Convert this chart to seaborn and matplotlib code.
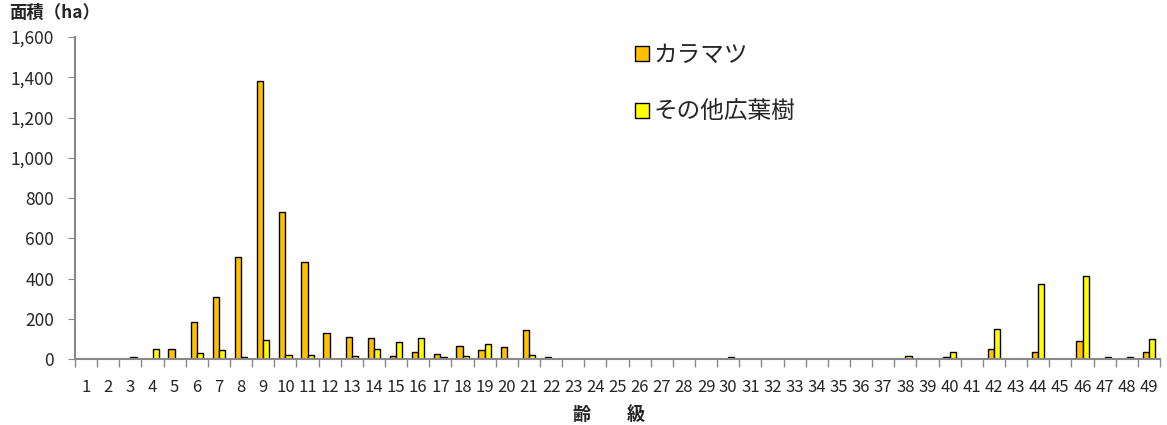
import numpy as np
import pandas as pd
import seaborn as sns
import matplotlib.pyplot as plt
from matplotlib.patches import Patch
from matplotlib.ticker import FuncFormatter, MultipleLocator

# Data (area in ha per age class)
age_classes = [str(i) for i in range(1, 50)]
karamatsu = [3, 1, 0, 0, 48, 184, 311, 505, 1380, 730,
             484, 132, 108, 104, 15, 35, 27, 65, 45, 58,
             144, 13, 2, 3, 0, 0, 0, 0, 0, 0,
             0, 0, 1, 1, 0, 1, 0, 0, 0, 12,
             3, 50, 3, 33, 3, 88, 0, 2, 35]
broadleaf = [3, 1, 10, 48, 3, 30, 46, 10, 94, 20,
             20, 3, 17, 50, 86, 103, 12, 18, 75, 0,
             20, 2, 2, 0, 0, 0, 0, 0, 0, 13,
             0, 0, 0, 0, 0, 0, 0, 16, 0, 35,
             0, 149, 0, 373, 0, 414, 12, 13, 101]
series_names = ['カラマツ', 'その他広葉樹']
colors = ['#FFC000', '#FFFF00']

df = pd.DataFrame({
    'age': age_classes * 2,
    'area': karamatsu + broadleaf,
    'kind': [series_names[0]] * 49 + [series_names[1]] * 49,
})

sns.set_style('white')
plt.rcParams['font.family'] = ['Noto Sans CJK JP', 'DejaVu Sans']

fig = plt.figure(figsize=(11.67, 4.25), dpi=100)
ax = fig.add_axes([0.0643, 0.155, 0.9297, 0.758])

sns.barplot(data=df, x='age', y='area', hue='kind', palette=colors,
            saturation=1, width=0.56, edgecolor='black', linewidth=1.0,
            ax=ax, legend=False)

ax.set_xlim(-0.5, 48.5)
ax.set_ylim(0, 1600)
ax.yaxis.set_major_locator(MultipleLocator(200))
ax.yaxis.set_major_formatter(FuncFormatter(lambda v, p: f'{int(v):,}'))

# axis styling like the spreadsheet original
for s in ['top', 'right']:
    ax.spines[s].set_visible(False)
for s in ['left', 'bottom']:
    ax.spines[s].set_color('#888888')
    ax.spines[s].set_linewidth(1.5)
ax.tick_params(axis='y', direction='out', length=5, color='#888888',
               labelsize=12.5, pad=10, left=True)
ax.tick_params(axis='x', which='major', length=0, labelsize=12, pad=14)
ax.set_xticks(np.arange(-0.5, 49, 1), minor=True)
ax.tick_params(axis='x', which='minor', direction='out', length=6,
               color='#888888', width=1, bottom=True)
ax.set_xlabel('')
ax.set_ylabel('')

fig.text(0.008, 0.97, '面積（ha）', fontsize=12.5, fontweight='bold', va='center')
fig.text(0.522, 0.025, '齢　　級', fontsize=13, fontweight='bold',
         ha='center', va='center')

handles = [Patch(facecolor=c, edgecolor='black', linewidth=1) for c in colors]
fig.legend(handles, series_names, loc='upper left',
           bbox_to_anchor=(0.536, 0.918), frameon=False, fontsize=17,
           handlelength=0.6, handleheight=0.6, handletextpad=0.2,
           labelspacing=1.4, borderaxespad=0)

plt.savefig('out.png', dpi=100)
